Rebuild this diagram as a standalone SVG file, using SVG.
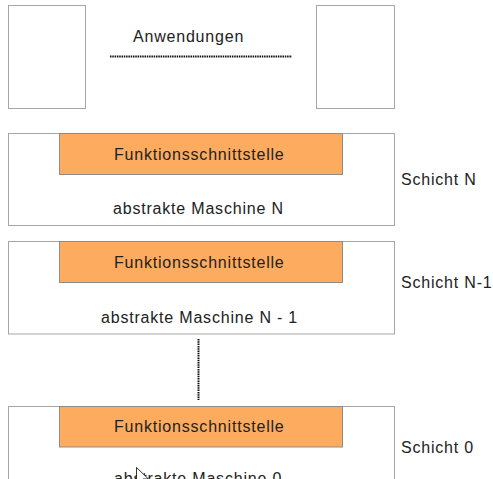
<svg xmlns="http://www.w3.org/2000/svg" width="493" height="479" viewBox="0 0 493 479">
<style>
.box{fill:#fff;stroke:#a6a6a6;stroke-width:1}
.iface{fill:#fdab5e;stroke:#8c8c8c;stroke-width:1}
.t{font-family:"Liberation Sans",Arial,sans-serif;font-size:16px;fill:#222;letter-spacing:0.8px}
.dot{stroke:#111;stroke-width:2;stroke-dasharray:1.5 0.8;fill:none}
</style>
<rect width="493" height="479" fill="#fff"/>
<g id="app-left"><rect class="box" x="8.5" y="5.5" width="77" height="103"/></g>
<g id="app-right"><rect class="box" x="316.5" y="5.5" width="78" height="103"/></g>
<g id="anwendungen"><text class="t" x="133" y="41.5">Anwendungen</text></g>
<g id="schicht-n">
<rect class="box" x="8.5" y="133.5" width="386" height="92"/>
<rect class="iface" x="59.5" y="133.5" width="283" height="41"/>
<text class="t" x="114" y="160">Funktionsschnittstelle</text>
<text class="t" x="113" y="213.5">abstrakte Maschine N</text>
<text class="t" x="401" y="185">Schicht N</text>
</g>
<g id="schicht-n-1">
<rect class="box" x="8.5" y="241.5" width="386" height="92.5"/>
<rect class="iface" x="59.5" y="241.5" width="283" height="41"/>
<text class="t" x="114" y="267.5">Funktionsschnittstelle</text>
<text class="t" x="101" y="322.5">abstrakte Maschine N - 1</text>
<text class="t" x="401" y="288">Schicht N-1</text>
</g>
<g id="schicht-0">
<rect class="box" x="8.5" y="406.5" width="386" height="92"/>
<rect class="iface" x="59.5" y="406.5" width="283" height="40.5"/>
<text class="t" x="114" y="432">Funktionsschnittstelle</text>
<text class="t" x="114" y="483.5">abstrakte Maschine  0</text>
<text class="t" x="401" y="453">Schicht 0</text>
</g>
<g id="connectors">
<line class="dot" x1="110" y1="56.5" x2="292" y2="56.5"/>
<line class="dot" x1="198.5" y1="339" x2="198.5" y2="400"/>
</g>
<g id="cursor"><path d="M136.5 467.5 L136.5 484 L140.5 480 L144 487 L146.5 486 L143 479 L148.5 479 Z" fill="#fff" stroke="#000" stroke-width="0.8"/></g>
</svg>
